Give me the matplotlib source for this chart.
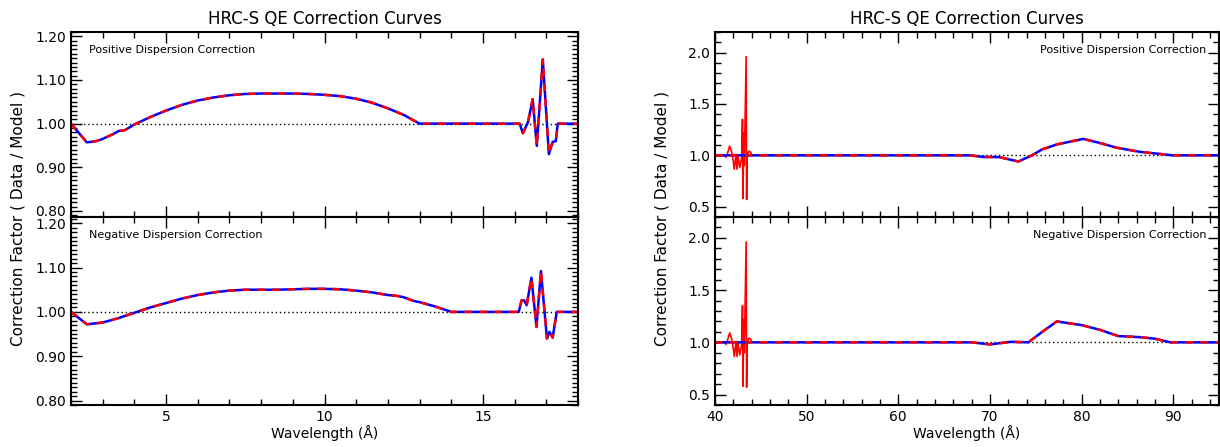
import matplotlib
matplotlib.use("Agg")
import matplotlib.pyplot as plt
from matplotlib.ticker import MultipleLocator, FormatStrFormatter

# ---- short wavelength (2-18 A) curves ----
pos_lo_wave = [2.0, 2.5, 2.8, 3.0, 3.3, 3.5, 3.7, 4.0, 4.5, 5.0, 5.5, 6.0, 6.5, 7.0,
               7.5, 8.0, 8.5, 9.0, 9.5, 10.0, 10.5, 11.0, 11.5, 12.0, 12.5, 12.8,
               13.0, 16.16, 16.26, 16.42, 16.57, 16.7, 16.89, 17.08, 17.2, 17.3,
               17.36, 18.0]
pos_lo_corr = [1.000, 0.957, 0.960, 0.965, 0.975, 0.983, 0.985, 0.998, 1.015, 1.030,
               1.043, 1.053, 1.060, 1.065, 1.068, 1.069, 1.069, 1.069, 1.068, 1.066,
               1.063, 1.057, 1.048, 1.035, 1.020, 1.008, 1.000, 1.000, 0.978, 1.003,
               1.056, 0.949, 1.147, 0.930, 0.958, 0.960, 1.000, 1.000]

neg_lo_wave = [2.0, 2.5, 3.0, 3.5, 4.0, 4.5, 5.0, 5.5, 6.0, 6.5, 7.0, 7.5, 8.0, 8.5,
               9.0, 9.5, 10.0, 10.5, 11.0, 11.5, 12.0, 12.3, 12.5, 12.8, 13.0, 13.5,
               14.0, 16.13, 16.22, 16.3, 16.38, 16.53, 16.69, 16.83, 17.02, 17.1,
               17.2, 17.33, 18.0]
neg_lo_corr = [1.000, 0.972, 0.976, 0.986, 0.998, 1.010, 1.020, 1.030, 1.038, 1.044,
               1.048, 1.050, 1.050, 1.050, 1.051, 1.052, 1.052, 1.051, 1.048, 1.044,
               1.038, 1.036, 1.033, 1.025, 1.022, 1.012, 1.000, 1.000, 1.026, 1.026,
               1.015, 1.077, 0.966, 1.092, 0.940, 0.955, 0.942, 1.000, 1.000]

# ---- long wavelength (40-95 A) curves ----
pos_hi_wave = [40.0, 67.8, 69.3, 71.0, 73.1, 74.6, 75.7, 77.3, 80.2, 82.0, 83.8,
               86.3, 88.9, 89.9, 95.0]
pos_hi_corr = [1.000, 1.000, 0.984, 0.983, 0.940, 1.000, 1.058, 1.106, 1.160, 1.120,
               1.075, 1.035, 1.010, 1.000, 1.000]

neg_hi_wave = [40.0, 68.0, 70.0, 72.3, 74.2, 75.7, 77.3, 80.0, 82.0, 84.0, 86.3,
               88.0, 89.7, 95.0]
neg_hi_corr = [1.000, 1.000, 0.980, 1.005, 1.000, 1.100, 1.200, 1.165, 1.120, 1.060,
               1.050, 1.035, 1.000, 1.000]

# noisy red data near the carbon edge
spike_wave = [40.0, 41.1, 41.2, 41.4, 41.6, 41.8, 42.0, 42.1, 42.3, 42.4, 42.5, 42.7,
              42.9, 43.0, 43.05, 43.15, 43.2, 43.4, 43.45, 43.5, 43.7, 43.9, 44.0]
spike_corr = [1.00, 1.00, 0.98, 1.03, 1.09, 1.04, 0.94, 0.865, 1.01, 0.865, 1.00, 0.88,
              0.97, 1.35, 0.58, 1.22, 0.90, 1.96, 0.57, 1.00, 1.04, 1.03, 1.00]

W, H = 1220, 447
plt.rcParams['font.family'] = ['DejaVu Sans']
fig = plt.figure(figsize=(W / 100, H / 100), dpi=100)


def box(x0, y0, x1, y1):
    return [x0 / W, 1 - y1 / H, (x1 - x0) / W, (y1 - y0) / H]


def style(ax, xmaj, xmin, ymaj, ymin, yfmt, show_x):
    ax.xaxis.set_major_locator(MultipleLocator(xmaj))
    ax.xaxis.set_minor_locator(MultipleLocator(xmin))
    ax.yaxis.set_major_locator(MultipleLocator(ymaj))
    ax.yaxis.set_minor_locator(MultipleLocator(ymin))
    ax.yaxis.set_major_formatter(FormatStrFormatter(yfmt))
    ax.tick_params(which='both', direction='in', top=True, right=True, labelsize=10)
    ax.tick_params(which='major', length=8, width=1)
    ax.tick_params(which='minor', length=4, width=1)
    if not show_x:
        ax.tick_params(labelbottom=False)
    for s in ax.spines.values():
        s.set_linewidth(1.5)


def draw(ax, wave, corr, spike=None):
    ax.axhline(1.0, color='black', lw=1, ls=(0, (1, 2)))
    if spike is not None:
        ax.plot(spike[0], spike[1], color='red', lw=1.2)
    ax.plot(wave, corr, color='blue', lw=1.8)
    ax.plot(wave, corr, color='red', lw=1.8, ls=(0, (3, 3)))


# left column
ax1 = fig.add_axes(box(71, 32, 578, 217))
draw(ax1, pos_lo_wave, pos_lo_corr)
ax1.set_xlim(2, 18)
ax1.set_ylim(0.786, 1.21)
style(ax1, 5, 1, 0.1, 0.01, '%.2f', False)
ax1.text(0.035, 0.93, 'Positive Dispersion Correction', transform=ax1.transAxes,
         fontsize=8, va='top')
ax1.set_title('HRC-S QE Correction Curves', fontsize=12, pad=6)

ax2 = fig.add_axes(box(71, 217, 578, 405))
draw(ax2, neg_lo_wave, neg_lo_corr)
ax2.set_xlim(2, 18)
ax2.set_ylim(0.79, 1.214)
style(ax2, 5, 1, 0.1, 0.01, '%.2f', True)
ax2.text(0.035, 0.93, 'Negative Dispersion Correction', transform=ax2.transAxes,
         fontsize=8, va='top')
ax2.set_xlabel('Wavelength (Å)', fontsize=10, labelpad=1)

# right column
ax3 = fig.add_axes(box(715, 32, 1219, 217))
draw(ax3, pos_hi_wave, pos_hi_corr, (spike_wave, spike_corr))
ax3.set_xlim(40, 95)
ax3.set_ylim(0.4, 2.2)
style(ax3, 10, 2, 0.5, 0.1, '%.1f', False)
ax3.text(0.975, 0.93, 'Positive Dispersion Correction', transform=ax3.transAxes,
         fontsize=8, va='top', ha='right')
ax3.set_title('HRC-S QE Correction Curves', fontsize=12, pad=6)

ax4 = fig.add_axes(box(715, 217, 1219, 405))
draw(ax4, neg_hi_wave, neg_hi_corr, (spike_wave, spike_corr))
ax4.set_xlim(40, 95)
ax4.set_ylim(0.4, 2.2)
style(ax4, 10, 2, 0.5, 0.1, '%.1f', True)
ax4.text(0.975, 0.93, 'Negative Dispersion Correction', transform=ax4.transAxes,
         fontsize=8, va='top', ha='right')
ax4.set_xlabel('Wavelength (Å)', fontsize=10, labelpad=1)

fig.text(18 / W, 1 - 218 / H, 'Correction Factor ( Data / Model )', rotation=90,
         ha='center', va='center', fontsize=11)
fig.text(662 / W, 1 - 218 / H, 'Correction Factor ( Data / Model )', rotation=90,
         ha='center', va='center', fontsize=11)

fig.savefig('out.png', dpi=100)
